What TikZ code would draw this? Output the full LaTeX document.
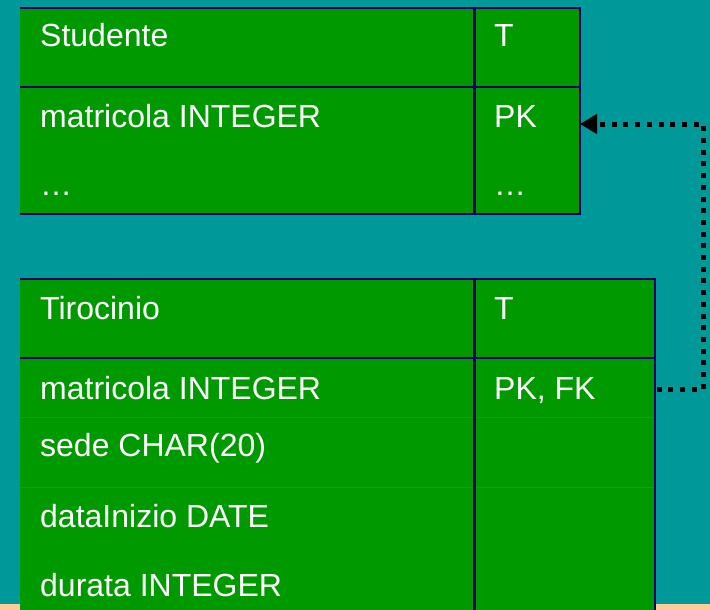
\documentclass[tikz,border=0pt]{standalone}
\usepackage{fontspec}
\setmainfont{Liberation Sans}
\usepackage{xcolor}
\usepackage{tikz}
\usetikzlibrary{arrows.meta, positioning}
\definecolor{slidebg}{HTML}{009999}
\definecolor{tabgreen}{HTML}{009900}
\definecolor{tabrule}{HTML}{000066}
\definecolor{rowrule}{HTML}{00996A}
\definecolor{footbar}{HTML}{FFCC99}

\begin{document}
\begin{tikzpicture}[x=1pt,y=-1pt,>={Triangle[length=17pt,width=19pt]},node distance=0pt]
            \tikzset{tab/.style={fill=tabgreen, anchor=north west, inner sep=0pt, outer sep=0pt, minimum width=#1},
                     cell/.style={text=white, anchor=base west, inner sep=0pt, font=\fontsize{32}{38}\selectfont},
                     rule/.style={draw=tabrule, line width=2.5pt},
                     fkline/.style={->, line width=5pt, dash pattern=on 5pt off 6.7pt}}
            \useasboundingbox[fill=slidebg] (0,0) rectangle (710,610);
            \fill[footbar] (0,604) rectangle (710,610);
            \node[tab=560pt, minimum height=79pt] (studhead) at (20,8) {};
            \node[tab=560pt, minimum height=127pt, below=of studhead] (studbody) {};
            \node[tab=635pt, minimum height=79pt] (tirhead) at (20,279) {};
            \node[tab=635pt, minimum height=256pt, below=of tirhead] (tirbody) {};
            \foreach \dy in {59,129}
                \draw[rowrule, line width=1pt] ([yshift=-\dy pt]tirbody.north west) -- ([yshift=-\dy pt]tirbody.north east);
            \draw[rule] (studhead.north west) -- (studhead.north east) |- (studbody.south west);
            \draw[rule] (studhead.south west) -- (studhead.south east);
            \draw[rule] ([xshift=454.5pt]studhead.north west) -- ([xshift=454.5pt]studbody.south west);
            \draw[rule] (tirhead.north west) -- (tirhead.north east) -- (tirbody.south east);
            \draw[rule] (tirhead.south west) -- (tirhead.south east);
            \draw[rule] ([xshift=454.5pt]tirhead.north west) -- ([xshift=454.5pt]tirbody.south west);
            \node[cell] (studname) at (40,47) {Studente};
            \node[cell] (studtype) at (494,47) {T};
            \node[cell] (studkey) at (40,128) {matricola INTEGER};
            \node[cell] (studpk) at (494,128) {PK};
            \node[cell] (studmore) at (40,195) {…};
            \node[cell] (studmorekey) at (494,195) {…};
            \node[cell] (tirname) at (40,319) {Tirocinio};
            \node[cell] (tirtype) at (494,319) {T};
            \node[cell] (tirkey) at (40,399) {matricola INTEGER};
            \node[cell] (tirpkfk) at (494,399) {PK, FK};
            \node[cell] (tirsede) at (40,456) {sede CHAR(20)};
            \node[cell] (tirinizio) at (40,527) {dataInizio DATE};
            \node[cell] (tirdurata) at (40,596) {durata INTEGER};
            \coordinate (fkout) at (656.5,389);
            \coordinate (pkin) at (580,124);
            \draw[fkline] (fkout) -- ++(46.5,0) |- (pkin);
        \end{tikzpicture}
\end{document}
